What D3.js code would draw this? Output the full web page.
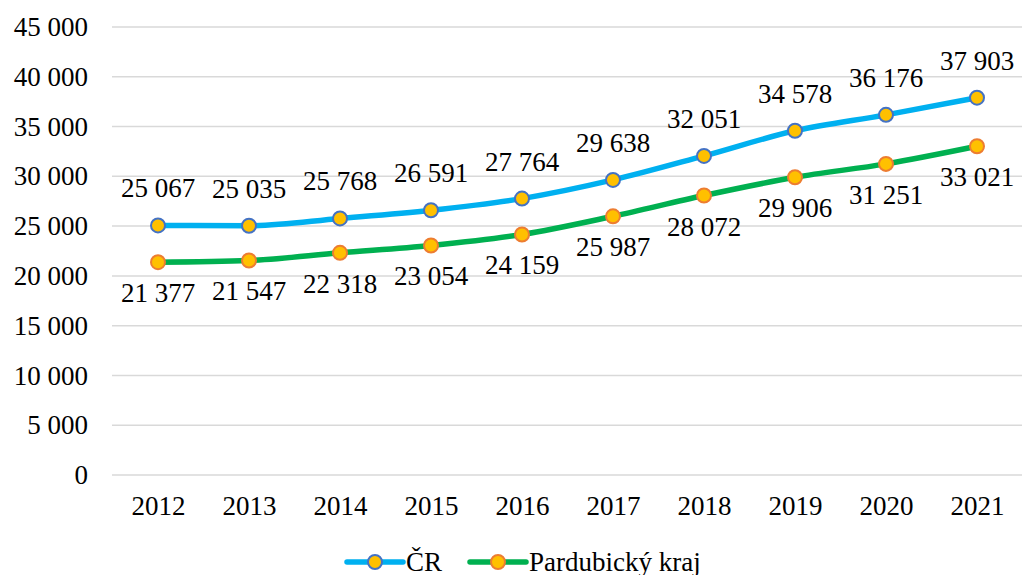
<!DOCTYPE html>
<html>
<head>
<meta charset="utf-8">
<script src="https://cdn.jsdelivr.net/npm/d3@7"></script>
<style>
  body { margin: 0; background: #fff; }
</style>
</head>
<body>
<div id="chart"></div>
<script>
// Data
var years = ["2012", "2013", "2014", "2015", "2016", "2017", "2018", "2019", "2020", "2021"];
var crValues = [25067, 25035, 25768, 26591, 27764, 29638, 32051, 34578, 36176, 37903];
var pardValues = [21377, 21547, 22318, 23054, 24159, 25987, 28072, 29906, 31251, 33021];
var yTicks = [0, 5000, 10000, 15000, 20000, 25000, 30000, 35000, 40000, 45000];

var width = 1022, height = 575;
var fontSize = 27;
var serif = "'Liberation Serif', 'Times New Roman', serif";

var svg = d3.select("#chart").append("svg")
  .attr("width", width)
  .attr("height", height);

// Scales
var x = d3.scalePoint()
  .domain(years)
  .range([112.5, 1022.5])
  .padding(0.5);

var y = d3.scaleLinear()
  .domain([0, 45000])
  .range([475, 27]);

// Thousands with a space
function fmt(v) {
  return d3.format(",")(v).replace(/,/g, " ");
}

function styleText(sel) {
  sel.style("font-family", serif)
    .style("font-size", fontSize + "px")
    .style("fill", "#000");
}

// Gridlines
svg.append("g")
  .selectAll("line")
  .data(yTicks)
  .enter()
  .append("line")
  .attr("x1", 112)
  .attr("x2", 1022)
  .attr("y1", function (d) { return y(d); })
  .attr("y2", function (d) { return y(d); })
  .attr("stroke", "#d9d9d9")
  .attr("stroke-width", 1.5);

// Y axis
var yAxis = d3.axisLeft(y).tickValues(yTicks).tickFormat(fmt).tickSize(0).tickPadding(0);
var yG = svg.append("g")
  .attr("transform", "translate(88,0)")
  .call(yAxis);
yG.select(".domain").remove();
yG.selectAll("text").call(styleText);

// X axis
var xAxis = d3.axisBottom(x).tickSize(0).tickPadding(0);
var xG = svg.append("g")
  .attr("transform", "translate(0,496)")
  .call(xAxis);
xG.select(".domain").remove();
xG.selectAll("text").call(styleText);

var series = [
  { name: "ČR", values: crValues, line: "#00b0f0", stroke: "#4472c4", labelDy: -28 },
  { name: "Pardubický kraj", values: pardValues, line: "#00b050", stroke: "#ed7d31", labelDy: 40 }
];

var line = d3.line()
  .x(function (d, i) { return x(years[i]); })
  .y(function (d) { return y(d); })
  .curve(d3.curveMonotoneX);

series.forEach(function (s) {
  svg.append("path")
    .attr("d", line(s.values))
    .attr("fill", "none")
    .attr("stroke", s.line)
    .attr("stroke-width", 5.5)
    .attr("stroke-linejoin", "round");

  svg.append("g")
    .selectAll("circle")
    .data(s.values)
    .enter()
    .append("circle")
    .attr("cx", function (d, i) { return x(years[i]); })
    .attr("cy", function (d) { return y(d); })
    .attr("r", 7)
    .attr("fill", "#ffc000")
    .attr("stroke", s.stroke)
    .attr("stroke-width", 2);

  svg.append("g")
    .selectAll("text")
    .data(s.values)
    .enter()
    .append("text")
    .attr("x", function (d, i) { return x(years[i]); })
    .attr("y", function (d) { return y(d) + s.labelDy; })
    .attr("text-anchor", "middle")
    .call(styleText)
    .text(fmt);
});

// Legend
var legend = [
  { x: 347, s: series[0] },
  { x: 470, s: series[1] }
];
legend.forEach(function (l) {
  var g = svg.append("g").attr("transform", "translate(" + l.x + ",562)");
  g.append("line")
    .attr("x1", 0).attr("x2", 56)
    .attr("y1", 0).attr("y2", 0)
    .attr("stroke", l.s.line)
    .attr("stroke-width", 5.5)
    .attr("stroke-linecap", "round");
  g.append("circle")
    .attr("cx", 28).attr("cy", 0).attr("r", 7)
    .attr("fill", "#ffc000")
    .attr("stroke", l.s.stroke)
    .attr("stroke-width", 2);
  g.append("text")
    .attr("x", 59)
    .attr("y", 9)
    .call(styleText)
    .text(l.s.name);
});
</script>
</body>
</html>
